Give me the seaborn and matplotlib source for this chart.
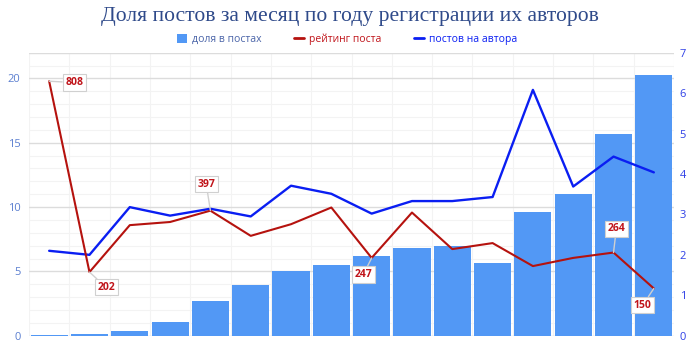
import numpy as np
import pandas as pd
import matplotlib
matplotlib.use("Agg")
import matplotlib.pyplot as plt
from matplotlib.patches import Patch
from matplotlib.lines import Line2D
import seaborn as sns

years = [str(y) for y in range(2009, 2025)]
share_posts = [0.08, 0.15, 0.36, 1.09, 2.70, 3.91, 5.0, 5.47, 6.22, 6.81, 6.99, 5.65, 9.61, 10.99, 15.65, 20.28]
post_rating = [808, 202, 351, 361, 397, 317, 354, 407, 247, 391, 275, 294, 221, 247, 264, 150]
posts_per_author = [2.10, 2.00, 3.18, 2.97, 3.14, 2.95, 3.71, 3.51, 3.02, 3.33, 3.33, 3.43, 6.08, 3.69, 4.43, 4.04]
labelled = {"2009": (18, -1), "2010": (12, -11), "2013": (-3, 19), "2017": (-6, -12), "2023": (2, 17), "2024": (-8, -12)}

title = "Доля постов за месяц по году регистрации их авторов"
legend_labels = ["доля в постах", "рейтинг поста", "постов на автора"]

BAR = "#5298F5"
RED = "#B5120E"
BLUE = "#0A1EF2"

sns.set_theme(style="white")
plt.rcParams["font.family"] = ["Open Sans", "DejaVu Sans"]

df = pd.DataFrame({"year": years, "idx": np.arange(len(years)), "share": share_posts,
                   "rating": post_rating, "ppa": posts_per_author})

fig = plt.figure(figsize=(7, 3.6), dpi=100)
ax = fig.add_axes([29/700, 1-335.7/360, 645/700, 283/360])
ax2 = ax.twinx()
ax3 = ax.twinx()

sns.barplot(data=df, x="year", y="share", ax=ax, color=BAR, saturation=1, width=0.92, edgecolor="none")
sns.lineplot(data=df, x="idx", y="ppa", ax=ax2, color=BLUE, linewidth=1.7)
sns.lineplot(data=df, x="idx", y="rating", ax=ax3, color=RED, linewidth=1.5)

ax.set_xlim(-0.5, len(years) - 0.5)
ax.set_ylim(0, 22)
ax2.set_ylim(0, 7)
ax3.set_ylim(0, 22 * 40.84)

# grid
ax.set_yticks([0, 5, 10, 15, 20])
ax.set_yticks(np.arange(0, 23, 1), minor=True)
ax.set_xticks(np.arange(-0.5, len(years), 1), minor=True)
ax.grid(True, which="major", axis="y", color="#DCDCDC", linewidth=1.0)
ax.grid(True, which="minor", axis="both", color="#F3F3F3", linewidth=0.8)
ax.axhline(22, color="#DCDCDC", linewidth=1.0)
ax.set_axisbelow(True)

for a in (ax, ax2, ax3):
    for s in a.spines.values():
        s.set_visible(False)
    a.set_xlabel("")
    a.set_ylabel("")

ax.tick_params(axis="x", which="both", length=0, labelsize=8.5, labelcolor="#555555", pad=5)
ax.tick_params(axis="y", which="both", length=0, labelsize=8, labelcolor="#5B7FD0", pad=6)
ax.set_yticklabels(["0", "5", "10", "15", "20"])
ax2.set_yticks(range(0, 8))
ax2.tick_params(axis="y", length=0, labelsize=8, labelcolor="#2E3FE6", pad=4)
ax3.set_yticks([])
ax3.set_xticks([])
ax2.set_xticks([])

for yr, (dx, dy) in labelled.items():
    i = years.index(yr)
    r = post_rating[i]
    ax3.annotate(str(r), xy=(i, r), xytext=(dx, dy), textcoords="offset points",
                 ha="center", va="center", fontsize=7.5, fontweight="bold", color="#C0141A",
                 bbox=dict(boxstyle="square,pad=0.25", fc="white", ec="#D0D0D0", lw=0.8),
                 arrowprops=dict(arrowstyle="-", color="#D0D0D0", lw=1.0, shrinkA=0, shrinkB=0),
                 zorder=10)

fig.text(350/700, 1 - 21.5/360, title, ha="center", va="baseline", fontsize=15.6,
         family="Liberation Serif", color="#2F4A8A")

handles = [Patch(facecolor=BAR, edgecolor="none"),
           Line2D([0], [0], color=RED, lw=2),
           Line2D([0], [0], color=BLUE, lw=2)]
leg = fig.legend(handles, legend_labels, loc="center", bbox_to_anchor=(347/700, 1 - 39.5/360),
                 ncol=3, frameon=False, prop={"family": ["Open Sans", "DejaVu Sans"], "size": 7.5},
                 handlelength=0.96, handleheight=0.96, handletextpad=0.48, columnspacing=3.1,
                 borderpad=0, borderaxespad=0)
for t, c in zip(leg.get_texts(), ["#4A64A8", "#C0141A", BLUE]):
    t.set_color(c)

fig.savefig("out.png", dpi=100)
